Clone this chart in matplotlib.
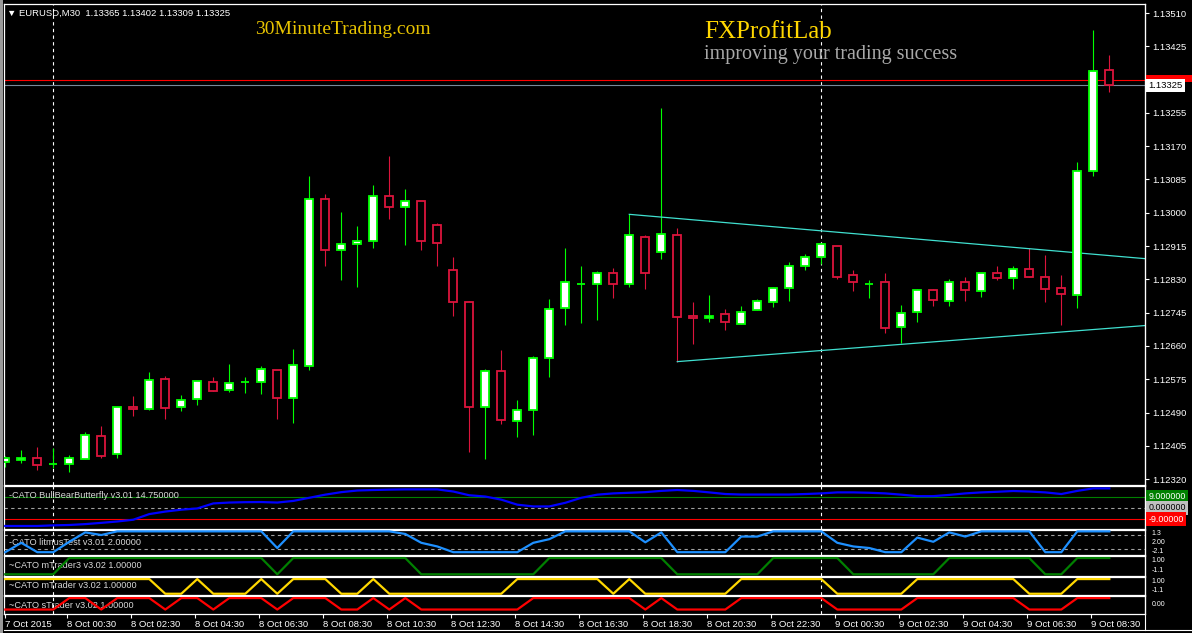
import numpy as np
import matplotlib
matplotlib.use('Agg')
import matplotlib.pyplot as plt
import matplotlib.transforms as mtransforms

plt.rcParams['font.family'] = ['Liberation Sans', 'DejaVu Sans']

# ── EURUSD M30 bars (7 Oct 22:30 .. 9 Oct 09:00) ──
opens = [1.12364, 1.12369, 1.12374, 1.12358, 1.12358, 1.12371, 1.12430, 1.12384, 1.12504, 1.12499,
         1.12576, 1.12504, 1.12525, 1.12568, 1.12548, 1.12568, 1.12568, 1.12599, 1.12527, 1.12609,
         1.13034, 1.12904, 1.12921, 1.12929, 1.13044, 1.13014, 1.13031, 1.12968, 1.12855, 1.12773,
         1.12504, 1.12596, 1.12468, 1.12497, 1.12630, 1.12758, 1.12819, 1.12819, 1.12845, 1.12819,
         1.12939, 1.12901, 1.12942, 1.12737, 1.12732, 1.12742, 1.12717, 1.12753, 1.12773, 1.12809,
         1.12865, 1.12888, 1.12916, 1.12842, 1.12819, 1.12822, 1.12709, 1.12747, 1.12804, 1.12776,
         1.12822, 1.12801, 1.12845, 1.12834, 1.12857, 1.12837, 1.12809, 1.12791, 1.13106, 1.13365]
highs = [1.12379, 1.12394, 1.12402, 1.12399, 1.12381, 1.12440, 1.12456, 1.12504, 1.12533, 1.12594,
         1.12584, 1.12535, 1.12571, 1.12581, 1.12614, 1.12581, 1.12609, 1.12599, 1.12653, 1.13095,
         1.13049, 1.13003, 1.12965, 1.13072, 1.13144, 1.13060, 1.13031, 1.12975, 1.12886, 1.12776,
         1.12602, 1.12650, 1.12522, 1.12635, 1.12781, 1.12911, 1.12863, 1.12852, 1.12860, 1.12996,
         1.12942, 1.13267, 1.12960, 1.12773, 1.12791, 1.12755, 1.12763, 1.12781, 1.12811, 1.12875,
         1.12896, 1.12921, 1.12916, 1.12855, 1.12829, 1.12847, 1.12765, 1.12806, 1.12806, 1.12832,
         1.12837, 1.12847, 1.12863, 1.12863, 1.12909, 1.12893, 1.12840, 1.13129, 1.13466, 1.13402]
lows = [1.12351, 1.12361, 1.12343, 1.12348, 1.12338, 1.12371, 1.12374, 1.12374, 1.12481, 1.12497,
        1.12474, 1.12494, 1.12509, 1.12545, 1.12543, 1.12540, 1.12538, 1.12474, 1.12463, 1.12599,
        1.12863, 1.12829, 1.12811, 1.12909, 1.12983, 1.12919, 1.12904, 1.12863, 1.12737, 1.12389,
        1.12371, 1.12461, 1.12428, 1.12433, 1.12581, 1.12714, 1.12719, 1.12727, 1.12783, 1.12811,
        1.12806, 1.12881, 1.12620, 1.12666, 1.12722, 1.12701, 1.12717, 1.12753, 1.12760, 1.12776,
        1.12855, 1.12870, 1.12832, 1.12801, 1.12783, 1.12694, 1.12668, 1.12722, 1.12763, 1.12763,
        1.12776, 1.12786, 1.12829, 1.12806, 1.12837, 1.12773, 1.12714, 1.12758, 1.13095, 1.13309]
closes = [1.12374, 1.12374, 1.12356, 1.12358, 1.12374, 1.12433, 1.12379, 1.12504, 1.12499, 1.12573,
          1.12502, 1.12522, 1.12571, 1.12545, 1.12566, 1.12568, 1.12602, 1.12527, 1.12612, 1.13034,
          1.12904, 1.12919, 1.12929, 1.13044, 1.13016, 1.13031, 1.12929, 1.12924, 1.12773, 1.12504,
          1.12596, 1.12471, 1.12497, 1.12630, 1.12755, 1.12822, 1.12819, 1.12845, 1.12819, 1.12942,
          1.12845, 1.12945, 1.12735, 1.12732, 1.12737, 1.12722, 1.12747, 1.12776, 1.12809, 1.12865,
          1.12888, 1.12919, 1.12837, 1.12822, 1.12819, 1.12707, 1.12745, 1.12804, 1.12778, 1.12824,
          1.12804, 1.12847, 1.12834, 1.12857, 1.12837, 1.12806, 1.12793, 1.13106, 1.13362, 1.13325]

# ── indicators ──
bbb = [-14.5, -14.5, -14.5, -14.0, -13.7, -13.0, -12.0, -10.9, -9.5, -5.0,
       -3.0, -1.5, -0.5, 3.5, 4.2, 4.5, 4.6, 4.2, 5.5, 8.0,
       10.5, 12.5, 13.8, 14.2, 14.5, 14.7, 14.7, 14.7, 13.0, 10.0,
       9.0, 6.5, 2.5, 1.1, 1.1, 4.0, 8.0, 10.5, 11.5, 12.0,
       12.5, 13.5, 14.2, 13.5, 12.3, 11.0, 10.6, 10.6, 10.6, 10.6,
       11.0, 11.5, 12.3, 12.3, 12.0, 11.5, 10.5, 9.3, 9.3, 10.3,
       11.5, 12.3, 12.8, 13.4, 13.0, 12.3, 11.0, 13.5, 15.5, 15.5]
litmus = [-2, -0.2, -2, -2, 0, 1.8, 1.3, 2, 2, 2,
          2, 2, 2, 2, 2, 2, 2, -1.2, 2, 2,
          2, 2, 2, 2, 2, 1.5, -0.2, -0.9, -2, -2,
          -2, -2, -2, -0.2, 0.5, 2, 2, 2, 2, 2,
          -0.1, 1.8, -2, -2, -2, -2, 1.0, 1.0, 2, 2,
          2, 2, -0.2, -0.9, -1.2, -2, -2, 0.8, 0, 1.8,
          1.0, 2, 2, 2, 2, -2, -2, 2, 2, 2]
mtrader3 = [-1, -1, -1, -1, 1, 1, 1, 1, 1, 1,
            1, 1, 1, 1, 1, 1, 1, -1, 1, 1,
            1, 1, 1, 1, 1, 1, -1, -1, -1, -1,
            -1, -1, -1, -1, 1, 1, 1, 1, 1, 1,
            1, 1, -1, -1, -1, -1, -1, -1, 1, 1,
            1, 1, 1, -1, -1, -1, -1, -1, -1, 1,
            1, 1, 1, 1, 1, -1, -1, 1, 1, 1]
mtrader = [1, 1, 1, 1, 1, 1, 1, 1, 1, 1,
           -1, -1, 1, -1, -1, -1, 1, -1, 1, 1,
           1, -1, -1, 1, -1, -1, -1, -1, -1, -1,
           -1, -1, 1, 1, 1, 1, 1, 1, -1, 1,
           -1, -1, -1, -1, -1, -1, 1, 1, 1, 1,
           1, 1, -1, -1, -1, -1, -1, 1, 1, 1,
           1, 1, 1, 1, -1, -1, -1, 1, 1, 1]
strader = [-1, -1, -1, -1, 1, 1, -1, 1, 1, 1,
           -1, 1, 1, -1, 1, 1, 1, -1, 1, 1,
           1, -1, -1, 1, -1, 1, -1, -1, -1, -1,
           -1, -1, -1, 1, 1, 1, 1, 1, 1, 1,
           -1, 1, -1, -1, -1, -1, 1, 1, 1, 1,
           1, 1, -1, -1, -1, -1, -1, 1, 1, 1,
           1, 1, 1, 1, -1, -1, -1, 1, 1, 1]

price_ticks = [1.12320, 1.12405, 1.12490, 1.12575, 1.12660, 1.12745, 1.12830, 1.12915,
               1.13000, 1.13085, 1.13170, 1.13255, 1.13340, 1.13425, 1.13510]
time_idx = [0, 4, 8, 12, 16, 20, 24, 28, 32, 36, 40, 44, 48, 52, 56, 60, 64, 68]
time_labels = ['7 Oct 2015', '8 Oct 00:30', '8 Oct 02:30', '8 Oct 04:30', '8 Oct 06:30',
               '8 Oct 08:30', '8 Oct 10:30', '8 Oct 12:30', '8 Oct 14:30', '8 Oct 16:30',
               '8 Oct 18:30', '8 Oct 20:30', '8 Oct 22:30', '9 Oct 00:30', '9 Oct 02:30',
               '9 Oct 04:30', '9 Oct 06:30', '9 Oct 08:30']
sep_idx = [3, 51]          # day separators
upper_tl = ([39, 71.2], [1.12996, 1.12883])
lower_tl = ([42, 71.2], [1.12620, 1.12712])
bid, ask = 1.13325, 1.13339

W, H = 1192, 633
XL = (-0.08, 71.23)
fig = plt.figure(figsize=(W / 100, H / 100), dpi=100, facecolor='black')


def panel(top, bottom, ylim):
    ax = fig.add_axes([4 / W, 1 - bottom / H, 1141 / W, (bottom - top) / H])
    ax.set_facecolor('black')
    for s in ax.spines.values():
        s.set_color('white'); s.set_linewidth(0.9)
    ax.set_xlim(*XL); ax.set_ylim(*ylim)
    ax.tick_params(bottom=False, labelbottom=False, left=False, labelleft=False)
    for k in sep_idx:
        ax.axvline(k, color='white', ls=(0, (3, 3)), lw=0.8, zorder=1)
    return ax


def ftext(x, y, s, **kw):
    fig.text(x / W, 1 - y / H, s, **kw)


def rlabel(ax, y, s, fc, tc, fs=6.8):
    ax.text(1.003, y, s, transform=ax.get_yaxis_transform(), color=tc, fontsize=fs,
            va='center', ha='left', clip_on=False, zorder=8,
            bbox=dict(boxstyle='square,pad=0.25', fc=fc, ec='none'))


# ── main price panel ──
ax = panel(4, 485, (1.12305, 1.13533))
x = np.arange(len(opens))
o, h, l, c = map(np.array, (opens, highs, lows, closes))
up = c >= o
ax.vlines(x, l, h, colors=np.where(up, '#00FF00', '#DC143C'), lw=0.8, zorder=2)
ax.bar(x[up], (c - o)[up], bottom=o[up], width=0.52, color='white',
       edgecolor='#00FF00', lw=1.3, zorder=3)
ax.bar(x[~up], (o - c)[~up], bottom=c[~up], width=0.52, color='black',
       edgecolor='#DC143C', lw=1.3, zorder=3)
ax.plot(*upper_tl, color='#40E0D0', lw=0.9, zorder=2)
ax.plot(*lower_tl, color='#40E0D0', lw=0.9, zorder=2)
ax.axhline(ask, color='red', lw=0.8, zorder=1)
ax.axhline(bid, color='#778899', lw=0.8, zorder=1)

ax.yaxis.tick_right()
shown = [f'{p:.5f}' if abs(p - ask) > 0.0003 else '' for p in price_ticks]
ax.set_yticks(price_ticks, shown)
ax.tick_params(axis='y', right=True, labelright=True, colors='white',
               labelsize=6.8, length=3, pad=2)
# ask marker box (its text is hidden under the bid box in the original)
ax.add_patch(plt.Rectangle((1.001, ask - 0.00004), 0.04, 0.00018,
                           transform=mtransforms.blended_transform_factory(ax.transAxes, ax.transData),
                           color='red', lw=0, clip_on=False, zorder=7))
rlabel(ax, bid, f'{bid:.5f}', 'white', 'black')

ftext(7, 13, f'▼ EURUSD,M30  {opens[-1]:.5f} {highs[-1]:.5f} {lows[-1]:.5f} {closes[-1]:.5f}',
      color='white', fontsize=6.8, va='center')
ftext(255, 29, '30MinuteTrading.com', color='#E8C400', fontsize=14,
      family='Liberation Serif', va='center')
ftext(704, 32, 'FXProfitLab', color='#FFD700', fontsize=18,
      family='Liberation Serif', va='center')
ftext(704, 55, 'improving your trading success', color='#A9A9A9', fontsize=14.5,
      family='Liberation Serif', va='center')

# ── indicator panels ──
a1 = panel(486, 529, (-16.9, 17.4))
a1.axhline(9, color='#008000', lw=0.8)
a1.axhline(0, color='#A0A0A0', lw=0.8, ls=(0, (3, 3)))
a1.axhline(-9, color='red', lw=0.8)
a1.plot(x, bbb, color='#0000FF', lw=1.6, zorder=3)
a1.text(0.004, 0.78, '-CATO BullBearButterfly v3.01 14.750000', transform=a1.transAxes,
        color='#D8D8D8', fontsize=6.6, va='center', zorder=2)
rlabel(a1, 9, '9.000000', '#008000', 'white', 6.4)
rlabel(a1, 0, '0.000000', '#C0C0C0', 'black', 6.4)
rlabel(a1, -9, '-9.00000', 'red', 'white', 6.4)

a2 = panel(530, 555, (-2.54, 2.26))
for lv in (1.3, -1.3):
    a2.axhline(lv, color='#A0A0A0', lw=0.8, ls=(0, (3, 3)))
a2.plot(x, litmus, color='#1E90FF', lw=1.6, zorder=3)
a2.text(0.004, 0.5, '-CATO litmusTest v3.01 2.00000', transform=a2.transAxes,
        color='#D8D8D8', fontsize=6.6, va='center', zorder=2)

a3 = panel(556, 576, (-1.21, 1.25))
a3.plot(x, mtrader3, color='#008000', lw=1.6, zorder=3)
a3.text(0.004, 0.5, '~CATO mTrader3 v3.02 1.00000', transform=a3.transAxes,
        color='#D8D8D8', fontsize=6.6, va='center', zorder=2)

a4 = panel(577, 595, (-1.17, 1.28))
a4.plot(x, mtrader, color='#FFD700', lw=1.6, zorder=3)
a4.text(0.004, 0.5, '~CATO mTrader v3.02 1.00000', transform=a4.transAxes,
        color='#D8D8D8', fontsize=6.6, va='center', zorder=2)

a5 = panel(596, 614, (-1.78, 1.36))
a5.plot(x, strader, color='#FF0000', lw=1.6, zorder=3)
a5.text(0.004, 0.45, '~CATO sTrader v3.02 1.00000', transform=a5.transAxes,
        color='#D8D8D8', fontsize=6.6, va='center', zorder=2)

# small scale labels on the narrow panels
for axx, txts in ((a2, [(0.86, '1.3'), (0.5, '2.00'), (0.14, '-2.1')]),
                  (a3, [(0.75, '1.00'), (0.25, '-1.1')]),
                  (a4, [(0.75, '1.00'), (0.25, '-1.1')]),
                  (a5, [(0.5, '0.00')])):
    for yv, s in txts:
        axx.text(1.006, yv, s, transform=axx.transAxes, color='white',
                 fontsize=5.0, va='center', ha='left', clip_on=False)

# time axis
tick_pos = [max(k - 0.15, 0) for k in time_idx]
a5.set_xticks(tick_pos, time_labels)
a5.tick_params(axis='x', bottom=True, labelbottom=True, colors='white',
               labelsize=6.8, length=3, pad=1.5)
for t in a5.get_xticklabels():
    t.set_ha('left')

# window frame bits
fig.add_artist(plt.Rectangle((0, 0), 3 / W, 1, transform=fig.transFigure,
                             color='#9A9A9A', lw=0))
fig.add_artist(plt.Line2D([4 / W, 1], [1 - 630 / H] * 2, transform=fig.transFigure,
                          color='white', lw=0.8))
fig.add_artist(plt.Line2D([1145 / W] * 2, [1 - 630 / H, 1 - 4 / H], transform=fig.transFigure,
                          color='white', lw=0.8))

fig.savefig('out.png', dpi=100, facecolor='black')
